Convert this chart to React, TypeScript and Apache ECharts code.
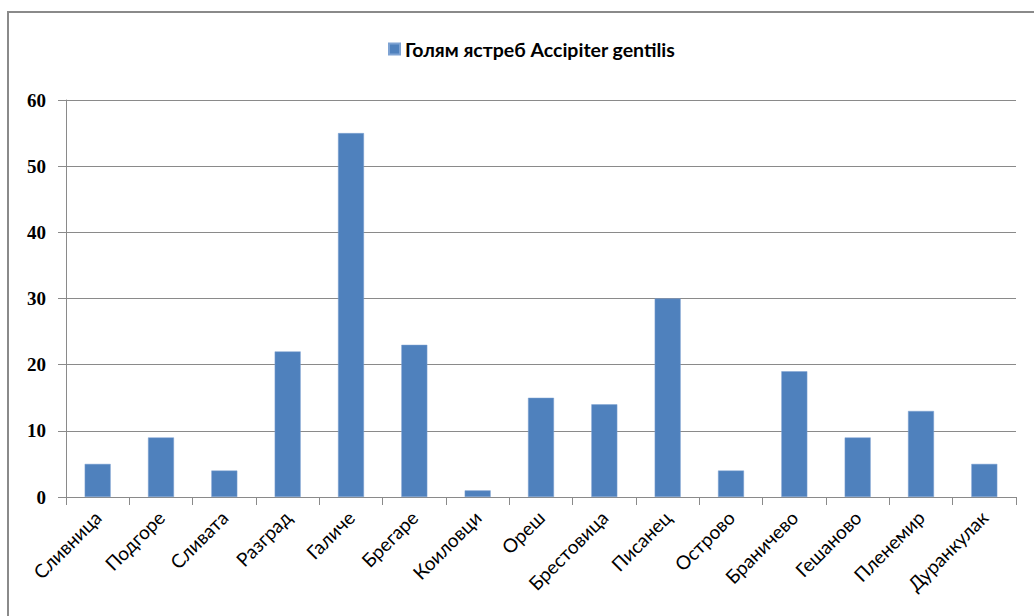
import React, { useEffect, useRef } from "react";
import * as echarts from "echarts";

const categories = [
  "Сливница", "Подгоре", "Сливата", "Разград", "Галиче", "Брегаре", "Коиловци",
  "Ореш", "Брестовица", "Писанец", "Острово", "Браничево", "Гешаново", "Пленемир", "Дуранкулак",
];
const seriesName = "Голям ястреб Accipiter gentilis";
const values = [5, 9, 4, 22, 55, 23, 1, 15, 14, 30, 4, 19, 9, 13, 5];
const yMin = 0;
const yMax = 60;
const yInterval = 10;

export default function App() {
  const ref = useRef<HTMLDivElement>(null);
  useEffect(() => {
    if (!ref.current) return;
    const chart = echarts.init(ref.current, undefined, { renderer: "svg" });
    chart.setOption({
      animation: false,
      backgroundColor: "#ffffff",
      graphic: [
        {
          type: "rect",
          shape: { x: 8, y: 12, width: 1040, height: 620 },
          style: { fill: "none", stroke: "#8a8a8a", lineWidth: 2 },
          silent: true,
        },
      ],
      legend: {
        top: 34,
        left: 383,
        itemWidth: 11,
        itemHeight: 11,
        itemGap: 4,
        icon: "rect",
        textStyle: { fontFamily: "Lato", fontWeight: "bold", fontSize: 19.5, color: "#000" },
        data: [seriesName],
      },
      grid: { left: 66, right: 18, top: 100, bottom: 119, containLabel: false },
      xAxis: {
        type: "category",
        data: categories,
        boundaryGap: true,
        axisLine: { lineStyle: { color: "#8a8a8a", width: 1 } },
        axisTick: { show: true, alignWithLabel: false, length: 8, lineStyle: { color: "#8a8a8a" } },
        axisLabel: {
          interval: 0,
          rotate: 45,
          margin: 17,
          fontFamily: "Lato",
          fontSize: 19,
          color: "#000",
        },
      },
      yAxis: {
        type: "value",
        min: yMin,
        max: yMax,
        interval: yInterval,
        axisLine: { show: true, lineStyle: { color: "#8a8a8a", width: 1 } },
        axisTick: { show: true, length: 8, lineStyle: { color: "#8a8a8a" } },
        splitLine: { show: true, lineStyle: { color: "#8a8a8a", width: 1 } },
        axisLabel: {
          margin: 20,
          fontFamily: "Liberation Serif",
          fontWeight: "bold",
          fontSize: 19,
          color: "#000",
        },
      },
      series: [
        {
          name: seriesName,
          type: "bar",
          data: values,
          barWidth: "41%",
          itemStyle: { color: "#4F81BD", borderColor: "#7ea3d3", borderWidth: 0.5 },
        },
      ],
    });
    return () => chart.dispose();
  }, []);
  return (
    <div
      ref={ref}
      style={{ position: "absolute", left: 0, top: 0, width: 1034, height: 616 }}
    />
  );
}
